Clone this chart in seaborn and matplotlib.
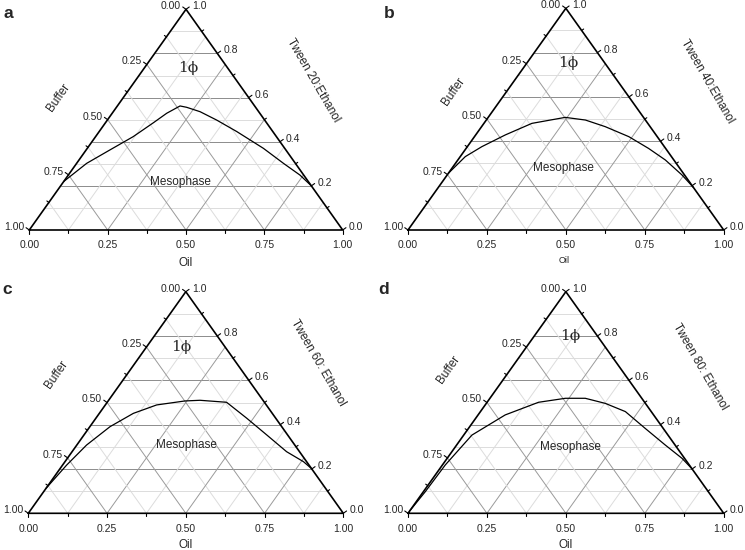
import matplotlib

matplotlib.use("Agg")
import matplotlib.pyplot as plt
import numpy as np
import pandas as pd
import seaborn as sns

# phase boundary as (oil fraction, tween:ethanol fraction)
a_oil = [0.0, 0.032, 0.076, 0.120, 0.153, 0.174, 0.200, 0.224, 0.277, 0.349, 0.439, 0.562, 0.660, 0.739, 0.80]
a_tween = [0.22, 0.302, 0.363, 0.423, 0.486, 0.529, 0.562, 0.556, 0.536, 0.498, 0.446, 0.370, 0.302, 0.249, 0.20]

b_oil = [0.0, 0.016, 0.046, 0.094, 0.152, 0.244, 0.314, 0.392, 0.489, 0.578, 0.657, 0.744, 0.808]
b_tween = [0.256, 0.331, 0.376, 0.429, 0.481, 0.508, 0.496, 0.466, 0.421, 0.368, 0.316, 0.248, 0.192]

c_oil = [0.0, 0.013, 0.031, 0.064, 0.108, 0.163, 0.244, 0.29, 0.379, 0.479, 0.581, 0.681, 0.757, 0.798]
c_tween = [0.113, 0.218, 0.308, 0.391, 0.451, 0.489, 0.507, 0.510, 0.501, 0.429, 0.353, 0.278, 0.233, 0.202]

d_oil = [0.0, 0.006, 0.009, 0.026, 0.086, 0.163, 0.239, 0.302, 0.377, 0.459, 0.560, 0.661, 0.744, 0.80]
d_tween = [0.01, 0.098, 0.218, 0.353, 0.444, 0.501, 0.519, 0.519, 0.496, 0.459, 0.383, 0.308, 0.248, 0.20]

panel_letters = ["a", "b", "c", "d"]
surfactants = ["Tween 20:Ethanol", "Tween 40:Ethanol", "Tween 60: Ethanol", "Tween 80: Ethanol"]

left_ticks = [0.0, 0.25, 0.5, 0.75, 1.0]      # Buffer
right_ticks = [0.0, 0.2, 0.4, 0.6, 0.8, 1.0]  # Tween:Ethanol
bottom_ticks = [0.0, 0.25, 0.5, 0.75, 1.0]    # Oil

sns.set_theme(style="white")
plt.rcParams["font.family"] = ["Liberation Sans", "DejaVu Sans"]

W_FIG, H_FIG = 745, 550
fig = plt.figure(figsize=(7.45, 5.5), dpi=100)

# panel boxes in pixels: left, base y, width, height of the triangle
boxes = [
    (29.3, 230.0, 313.4, 220.7),
    (408.0, 230.0, 315.7, 221.7),
    (28.3, 513.3, 315.0, 221.6),
    (408.0, 513.3, 315.7, 221.6),
]
letter_pos = [(8, 13), (389, 13), (7, 290), (384, 290)]
buffer_pos = [(0.092, 0.598), (0.145, 0.624), (0.09, 0.624), (0.129, 0.647)]
tween_pos = [(0.905, 0.68), (0.947, 0.669), (0.921, 0.677), (0.926, 0.662)]
oil_pos = [(0.5, -0.15), (0.496, -0.138), (0.5, -0.143), (0.5, -0.143)]
oil_size = [8.5, 6.5, 8.5, 8.5]
bottom_off = [-15, -15, -16, -16]
meso_pos = [(0.481, 0.219), (0.493, 0.278), (0.503, 0.308), (0.516, 0.301)]
phi_pos = [(0.507, 0.733), (0.509, 0.752), (0.487, 0.752), (0.514, 0.798)]
curves = [(a_oil, a_tween), (b_oil, b_tween), (c_oil, c_tween), (d_oil, d_tween)]


def to_xy(oil, tween):
    oil = np.asarray(oil, dtype=float)
    tween = np.asarray(tween, dtype=float)
    return oil + tween / 2, tween


PX = 0.72  # points per pixel at dpi 100

for i in range(4):
    left, base, w, h = boxes[i]
    ax = fig.add_axes([left / W_FIG, (H_FIG - base) / H_FIG, w / W_FIG, h / H_FIG])
    ax.set_xlim(0, 1)
    ax.set_ylim(0, 1)
    ax.axis("off")

    # grid: constant tween (horizontal)
    for k in range(1, 10):
        t = k / 10
        col = "#8c8c8c" if k % 2 == 0 else "#dcdcdc"
        ax.plot([t / 2, 1 - t / 2], [t, t], color=col, lw=0.7, zorder=1)
    # constant oil and constant buffer
    for k in range(1, 8):
        v = k / 8
        col = "#9a9a9a" if k % 2 == 0 else "#dcdcdc"
        x0, y0 = to_xy([v, v], [0, 1 - v])
        ax.plot(x0, y0, color=col, lw=0.7, zorder=1)
        x1, y1 = to_xy([1 - v, 0], [0, 1 - v])
        ax.plot(x1, y1, color=col, lw=0.7, zorder=1)

    # triangle frame
    ax.plot([0, 1, 0.5, 0], [0, 0, 1, 0], color="black", lw=1.2, zorder=3,
            solid_joinstyle="miter", clip_on=False)

    # ticks, perpendicular to edges in pixel space
    nl = np.array([-h, w / 2]) / np.hypot(h, w / 2)
    nr = np.array([h, w / 2]) / np.hypot(h, w / 2)
    for k in range(9):
        b = k / 8
        ln = 4 if k % 2 == 0 else 2.5
        t = 1 - b
        ax.plot([t / 2, t / 2 + nl[0] * ln / w], [t, t + nl[1] * ln / h],
                color="black", lw=0.8, clip_on=False)
        ax.plot([b, b], [0, -ln / h], color="black", lw=0.8, clip_on=False)
    for k in range(11):
        t = k / 10
        ln = 4 if k % 2 == 0 else 2.5
        ax.plot([1 - t / 2, 1 - t / 2 + nr[0] * ln / w], [t, t + nr[1] * ln / h],
                color="black", lw=0.8, clip_on=False)

    for b in left_ticks:
        t = 1 - b
        ax.annotate(f"{b:.2f}", (t / 2, t), xytext=(-5 * PX, 3 * PX),
                    textcoords="offset points", ha="right", va="center", fontsize=7.5)
    for t in right_ticks:
        ax.annotate(f"{t:.1f}", (1 - t / 2, t), xytext=(6 * PX, 3 * PX),
                    textcoords="offset points", ha="left", va="center", fontsize=7.5)
    for o in bottom_ticks:
        ax.annotate(f"{o:.2f}", (o, 0), xytext=(0, bottom_off[i] * PX),
                    textcoords="offset points", ha="center", va="center", fontsize=7.5)

    # boundary curve
    x, y = to_xy(*curves[i])
    df = pd.DataFrame({"x": x, "y": y})
    sns.lineplot(data=df, x="x", y="y", sort=False, estimator=None, color="black",
                 lw=0.9, ax=ax, zorder=4)
    ax.axis("off")

    ax.text(*buffer_pos[i], "Buffer", rotation=55, ha="center", va="center", fontsize=8.5)
    ax.text(*tween_pos[i], surfactants[i], rotation=-60, ha="center", va="center", fontsize=8.5)
    ax.text(*oil_pos[i], "Oil", ha="center", va="center", fontsize=oil_size[i])
    ax.text(*meso_pos[i], "Mesophase", ha="center", va="center", fontsize=8.5)
    ax.text(*phi_pos[i], "1\u03d5", ha="center", va="center", fontsize=11,
            family=["DejaVu Serif"])

    lx, ly = letter_pos[i]
    fig.text(lx / W_FIG, 1 - ly / H_FIG, panel_letters[i], ha="center", va="center",
             fontsize=12.5, fontweight="bold")

fig.savefig("out.png", dpi=100)
